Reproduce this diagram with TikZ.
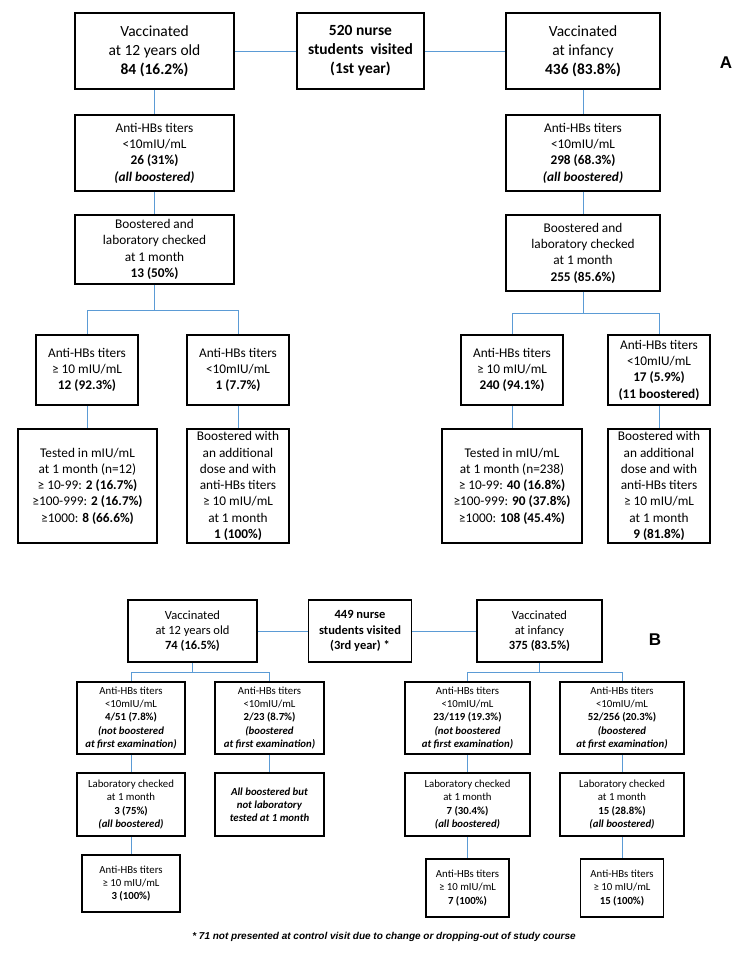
\documentclass[tikz,border=0pt]{standalone}
\usepackage{fontspec}
\setmainfont{Carlito}
\newfontfamily\arialfont{Liberation Sans}
\definecolor{linkblue}{RGB}{91,155,213}
\begin{document}
\begin{tikzpicture}[x=1pt, y={(0pt,-1pt)},
    box/.style={draw, line width=1.6pt, align=center, inner sep=0pt},
    link/.style={draw=linkblue, line width=1pt},
    bigtxt/.style={font=\fontsize{15.5}{19}\selectfont},
    midtxt/.style={font=\fontsize{13.3}{16.3}\selectfont},
    smalltxt/.style={font=\fontsize{10.8}{13.2}\selectfont},
    btxt/.style={font=\fontsize{12.5}{15.3}\selectfont}]
    \fill[white] (0,0) rectangle (741,954);
    \useasboundingbox (0,0) rectangle (741,954);

    % Parte A: primeiro ano
    \node[box, bigtxt, minimum width=159, minimum height=76] (L1) at (154.5,51)
      {Vaccinated\\at 12 years old\\\textbf{84 (16.2\%)}};
    \node[box, bigtxt, minimum width=127, minimum height=76] (C) at (360.5,51)
      {\textbf{520 nurse}\\\textbf{students\ \ visited}\\\textbf{(1st year)}};
    \node[box, bigtxt, minimum width=154, minimum height=76] (R1) at (583,51)
      {Vaccinated\\at infancy\\\textbf{436 (83.8\%)}};
    \node[font=\arialfont\bfseries\fontsize{17}{20}\selectfont] (labA) at (726,63) {A};

    \node[box, midtxt, minimum width=159, minimum height=76] (L2) at (154.5,153)
      {Anti-HBs titers\\<10mIU/mL\\\textbf{26 (31\%)}\\\textbf{\textit{(all boostered)}}};
    \node[box, midtxt, minimum width=154, minimum height=76] (R2) at (583,153)
      {Anti-HBs titers\\<10mIU/mL\\\textbf{298 (68.3\%)}\\\textbf{\textit{(all boostered)}}};

    \node[box, midtxt, minimum width=159, minimum height=69] (L3) at (154.5,249.5)
      {Boostered and\\laboratory checked\\at 1 month\\\textbf{13 (50\%)}};
    \node[box, midtxt, minimum width=154, minimum height=76] (R3) at (583,253)
      {Boostered and\\laboratory checked\\at 1 month\\\textbf{255 (85.6\%)}};

    \node[box, midtxt, minimum width=102, minimum height=70] (L4a) at (87,370)
      {Anti-HBs titers\\≥ 10 mIU/mL\\\textbf{12 (92.3\%)}};
    \node[box, midtxt, minimum width=102, minimum height=70] (L4b) at (238,370)
      {Anti-HBs titers\\<10mIU/mL\\\textbf{1 (7.7\%)}};
    \node[box, midtxt, minimum width=102, minimum height=70] (R4a) at (512,370)
      {Anti-HBs titers\\≥ 10 mIU/mL\\\textbf{240 (94.1\%)}};
    \node[box, midtxt, minimum width=102, minimum height=70] (R4b) at (659,370)
      {Anti-HBs titers\\<10mIU/mL\\\textbf{17 (5.9\%)}\\\textbf{(11 boostered)}};

    \node[box, midtxt, minimum width=139, minimum height=114] (L5a) at (87.5,486)
      {Tested in mIU/mL\\at 1 month (n=12)\\≥ 10-99: \textbf{2 (16.7\%)}\\≥100-999: \textbf{2 (16.7\%)}\\≥1000: \textbf{8 (66.6\%)}};
    \node[box, midtxt, minimum width=102, minimum height=114] (L5b) at (238,486)
      {Boostered with\\an additional\\dose and with\\anti-HBs titers\\≥ 10 mIU/mL\\at 1 month\\\textbf{1 (100\%)}};
    \node[box, midtxt, minimum width=140, minimum height=114] (R5a) at (512,486)
      {Tested in mIU/mL\\at 1 month (n=238)\\≥ 10-99: \textbf{40 (16.8\%)}\\≥100-999: \textbf{90 (37.8\%)}\\≥1000: \textbf{108 (45.4\%)}};
    \node[box, midtxt, minimum width=102, minimum height=114] (R5b) at (659,486)
      {Boostered with\\an additional\\dose and with\\anti-HBs titers\\≥ 10 mIU/mL\\at 1 month\\\textbf{9 (81.8\%)}};

    % Ligacoes da parte A
    \coordinate (jL) at (154.5,310);
    \coordinate (jR) at (583,313);
    \draw[link] (L1) -- (C);
    \draw[link] (C) -- (R1);
    \draw[link] (L1) -- (L2);
    \draw[link] (L2) -- (L3);
    \draw[link] (R1) -- (R2);
    \draw[link] (R2) -- (R3);
    \draw[link] (L3) -- (jL);
    \draw[link] (jL) -| (L4a);
    \draw[link] (jL) -| (L4b);
    \draw[link] (R3) -- (jR);
    \draw[link] (jR) -| (R4a);
    \draw[link] (jR) -| (R4b);
    \draw[link] (L4a.south) -- (L4a.south |- L5a.north);
    \draw[link] (L4b) -- (L5b);
    \draw[link] (R4a) -- (R5a);
    \draw[link] (R4b) -- (R5b);

    % Parte B: terceiro ano
    \node[box, btxt, minimum width=129, minimum height=62] (BL1) at (192.5,631)
      {Vaccinated\\at 12 years old\\\textbf{74 (16.5\%)}};
    \node[box, btxt, minimum width=103, minimum height=62] (BC) at (360,631)
      {\textbf{449 nurse}\\\textbf{students visited}\\\textbf{(3rd year) *}};
    \node[box, btxt, minimum width=125, minimum height=62] (BR1) at (539.5,631)
      {Vaccinated\\at infancy\\\textbf{375 (83.5\%)}};
    \node[font=\arialfont\bfseries\fontsize{17}{20}\selectfont] (labB) at (655,640) {B};

    \node[box, smalltxt, minimum width=108, minimum height=72] (BL2a) at (131,718)
      {Anti-HBs titers\\<10mIU/mL\\\textbf{4/51 (7.8\%)}\\\textbf{\textit{(not boostered}}\\\textbf{\textit{at first examination)}}};
    \node[box, smalltxt, minimum width=109, minimum height=72] (BL2b) at (269.5,718)
      {Anti-HBs titers\\<10mIU/mL\\\textbf{2/23 (8.7\%)}\\\textbf{\textit{(boostered}}\\\textbf{\textit{at first examination)}}};
    \node[box, smalltxt, minimum width=125, minimum height=72] (BR2a) at (467.5,718)
      {Anti-HBs titers\\<10mIU/mL\\\textbf{23/119 (19.3\%)}\\\textbf{\textit{(not boostered}}\\\textbf{\textit{at first examination)}}};
    \node[box, smalltxt, minimum width=124, minimum height=72] (BR2b) at (622,718)
      {Anti-HBs titers\\<10mIU/mL\\\textbf{52/256 (20.3\%)}\\\textbf{\textit{(boostered}}\\\textbf{\textit{at first examination)}}};

    \node[box, smalltxt, minimum width=108, minimum height=63] (BL3a) at (131,804.5)
      {Laboratory checked\\at 1 month\\\textbf{3 (75\%)}\\\textbf{\textit{(all boostered)}}};
    \node[box, smalltxt, minimum width=109, minimum height=63] (BL3b) at (269.5,804.5)
      {\textbf{\textit{All boostered but}}\\\textbf{\textit{not laboratory}}\\\textbf{\textit{tested at 1 month}}};
    \node[box, smalltxt, minimum width=125, minimum height=63] (BR3a) at (467.5,804.5)
      {Laboratory checked\\at 1 month\\\textbf{7 (30.4\%)}\\\textbf{\textit{(all boostered)}}};
    \node[box, smalltxt, minimum width=124, minimum height=63] (BR3b) at (622,804.5)
      {Laboratory checked\\at 1 month\\\textbf{15 (28.8\%)}\\\textbf{\textit{(all boostered)}}};

    \node[box, smalltxt, minimum width=98, minimum height=57] (BL4) at (131,883.5)
      {Anti-HBs titers\\≥ 10 mIU/mL\\\textbf{3 (100\%)}};
    \node[box, smalltxt, minimum width=83, minimum height=58] (BR4a) at (467.5,888)
      {Anti-HBs titers\\≥ 10 mIU/mL\\\textbf{7 (100\%)}};
    \node[box, smalltxt, minimum width=83, minimum height=58] (BR4b) at (622,888)
      {Anti-HBs titers\\≥ 10 mIU/mL\\\textbf{15 (100\%)}};

    \node[font=\arialfont\bfseries\itshape\fontsize{10}{12}\selectfont] (nota) at (384,937)
      {* 71 not presented at control visit due to change or dropping-out of study course};

    % Ligacoes da parte B
    \coordinate (jBL) at (192.5,672);
    \coordinate (jBR) at (539.5,672);
    \draw[link] (BL1) -- (BC);
    \draw[link] (BC) -- (BR1);
    \draw[link] (BL1) -- (jBL);
    \draw[link] (jBL) -| (BL2a);
    \draw[link] (jBL) -| (BL2b);
    \draw[link] (BR1) -- (jBR);
    \draw[link] (jBR) -| (BR2a);
    \draw[link] (jBR) -| (BR2b);
    \draw[link] (BL2a) -- (BL3a);
    \draw[link] (BL2b) -- (BL3b);
    \draw[link] (BR2a) -- (BR3a);
    \draw[link] (BR2b) -- (BR3b);
    \draw[link] (BL3a) -- (BL4);
    \draw[link] (BR3a) -- (BR4a);
    \draw[link] (BR3b) -- (BR4b);
\end{tikzpicture}
\end{document}
